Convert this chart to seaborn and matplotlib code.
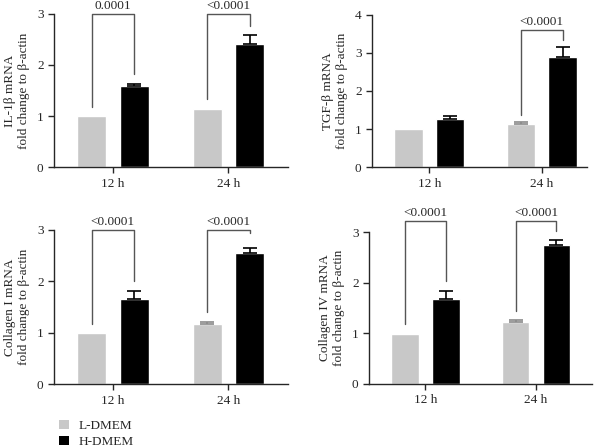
import numpy as np
import pandas as pd
import matplotlib
matplotlib.use('Agg')
import matplotlib.pyplot as plt
from matplotlib.patches import Patch
import seaborn as sns

# data
times = ['12 h', '24 h']
groups = ['L-DMEM', 'H-DMEM']
colors = ['#c8c8c8', '#000000']

il1b_low = [1.00, 1.14]
il1b_high = [1.58, 2.41]
il1b_low_err = [0.0, 0.0]
il1b_high_err = [0.05, 0.18]

tgfb_low = [1.00, 1.14]
tgfb_high = [1.27, 2.88]
tgfb_low_err = [0.0, 0.05]
tgfb_high_err = [0.07, 0.27]

col1_low = [1.00, 1.17]
col1_high = [1.66, 2.55]
col1_low_err = [0.0, 0.04]
col1_high_err = [0.15, 0.09]

col4_low = [0.98, 1.23]
col4_high = [1.67, 2.75]
col4_low_err = [0.0, 0.04]
col4_high_err = [0.17, 0.09]

# significance brackets: (time index, top, left leg bottom, right leg bottom, text)
il1b_brackets = [(0, 3.0, 1.17, 1.83, '0.0001'), (1, 3.0, 1.33, 2.77, '<0.0001')]
tgfb_brackets = [(1, 3.61, 1.37, 3.35, '<0.0001')]
col1_brackets = [(0, 3.0, 1.17, 2.01, '<0.0001'), (1, 3.0, 1.40, 2.94, '<0.0001')]
col4_brackets = [(0, 3.21, 1.18, 2.04, '<0.0001'), (1, 3.21, 1.44, 3.03, '<0.0001')]

ylabels = ['IL-1\u03b2 mRNA\nfold change to \u03b2-actin',
           'TGF-\u03b2 mRNA\nfold change to \u03b2-actin',
           'Collagen I mRNA\nfold change to \u03b2-actin',
           'Collagen IV mRNA\nfold change to \u03b2-actin']

panels = [
    (il1b_low, il1b_high, il1b_low_err, il1b_high_err, il1b_brackets, 3, [0.090, 0.627, 0.390, 0.342], 1.515),
    (tgfb_low, tgfb_high, tgfb_low_err, tgfb_high_err, tgfb_brackets, 4, [0.620, 0.627, 0.358, 0.340], 1.40),
    (col1_low, col1_high, col1_low_err, col1_high_err, col1_brackets, 3, [0.090, 0.142, 0.390, 0.345], 1.515),
    (col4_low, col4_high, col4_low_err, col4_high_err, col4_brackets, 3, [0.615, 0.143, 0.372, 0.339], 1.508),
]

sns.set_style('ticks')
plt.rcParams['font.family'] = ['Liberation Serif', 'DejaVu Serif']
plt.rcParams['font.size'] = 9.5

fig = plt.figure(figsize=(6, 4.48), dpi=100)

for (low, high, low_err, high_err, brackets, ymax, pos, xr), ylab in zip(panels, ylabels):
    ax = fig.add_axes(pos)
    df = pd.DataFrame({
        'time': times + times,
        'group': [groups[0]] * 2 + [groups[1]] * 2,
        'value': low + high,
    })
    sns.barplot(data=df, x='time', y='value', hue='group', hue_order=groups,
                palette=colors, width=0.74, gap=0.32, errorbar=None,
                legend=False, ax=ax, saturation=1)

    centers = []
    for cont, vals, errs, ec in zip(ax.containers, [low, high], [low_err, high_err], ['#8a8a8a', '#000000']):
        xs = [p.get_x() + p.get_width() / 2 for p in cont.patches]
        centers.append(xs)
        for x, v, e in zip(xs, vals, errs):
            if e > 0:
                ax.errorbar([x], [v], yerr=[[0], [e]], fmt='none',
                            ecolor=ec, elinewidth=1.2, capsize=5, capthick=1.2)

    for i, top, lb, rb, txt in brackets:
        xl, xrr = centers[0][i], centers[1][i]
        ax.plot([xl, xl, xrr, xrr], [lb, top, top, rb], color='#555555',
                lw=1, clip_on=False)
        ax.annotate(txt, ((xl + xrr) / 2, top), xytext=(0, 1.5),
                    textcoords='offset points', ha='center', va='bottom',
                    fontsize=9.5, annotation_clip=False)

    ax.set_xlim(-0.51, xr)
    ax.set_ylim(0, ymax)
    ax.set_yticks(range(ymax + 1))
    ax.set_xlabel('')
    ax.set_ylabel(ylab, fontsize=9.5, labelpad=5, linespacing=1.2)
    sns.despine(ax=ax)
    for s in ['left', 'bottom']:
        ax.spines[s].set_linewidth(1)
    ax.tick_params(width=1, length=4, labelsize=9.5)

handles = [Patch(facecolor=c, edgecolor='none') for c in colors]
fig.legend(handles, groups, loc='upper left', bbox_to_anchor=(0.09, 0.074),
           frameon=False, handlelength=0.7, handleheight=0.7, handletextpad=0.8,
           labelspacing=0.25, fontsize=9.5, borderaxespad=0)

fig.savefig('out.png', dpi=100)
